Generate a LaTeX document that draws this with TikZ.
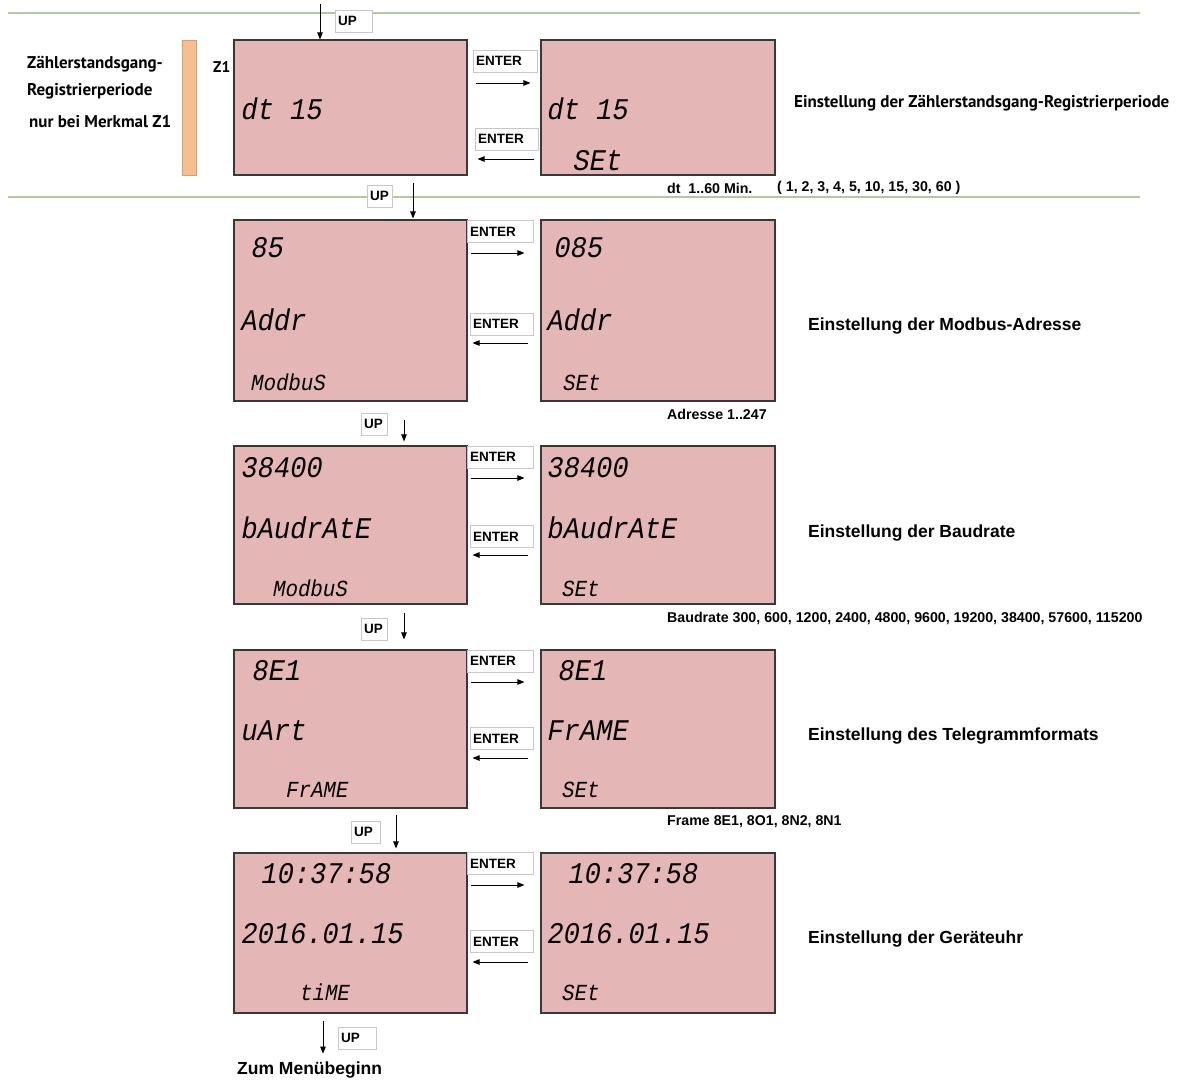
\documentclass[tikz,border=0pt]{standalone}
\usepackage{fontspec}
\usetikzlibrary{arrows.meta}
\newfontfamily\lcdfont[FakeSlant=0.18,FakeStretch=0.9]{Liberation Mono}
\newfontfamily\arialf{Liberation Sans}
\newfontfamily\myfont{PT Sans}
\definecolor{lcdpink}{HTML}{E5B6B6}
\definecolor{barorange}{HTML}{F8BE8E}
\definecolor{lineGreen}{HTML}{B6C69E}
\begin{document}
\begin{tikzpicture}[x=1pt,y=-1pt,
 lcdbox/.style={draw=black!78, fill=lcdpink, line width=1.1pt, inner sep=0pt},
 big/.style={anchor=base west, inner sep=0pt, font=\lcdfont\fontsize{30}{30}\selectfont},
 small/.style={anchor=base west, inner sep=0pt, font=\lcdfont\fontsize{23}{23}\selectfont},
 keybox/.style={draw=black!22, fill=white, line width=0.8pt, inner xsep=3pt, inner ysep=0pt, minimum height=22pt, align=left, text width=#1, font=\arialf\bfseries\fontsize{13.5}{14}\selectfont},
 desc/.style={anchor=west, inner sep=0pt, font=\arialf\bfseries\fontsize{17.5}{20}\selectfont},
 note/.style={anchor=west, inner sep=0pt, font=\arialf\bfseries\fontsize{14.2}{16}\selectfont},
 arr/.style={-{Triangle[length=7pt,width=5.5pt]}, line width=0.9pt},
 greenline/.style={draw=lineGreen, line width=2.2pt}]
\useasboundingbox[fill=white] (0,0) rectangle (1180,1079);

% separator lines
\draw[greenline] (8,13) -- (1140,13);
\draw[greenline] (8,197) -- (1140,197);

% ---------- top row (Z1) ----------
\node[anchor=north west, inner sep=0pt, align=left, font=\myfont\bfseries\fontsize{17}{27}\selectfont] (lefttxt) at (27,56)
  {Zählerstandsgang-\\Registrierperiode\\[5pt]\hspace{2pt}nur bei Merkmal Z1};
\node[draw=barorange!85!black, fill=barorange, line width=0.5pt, minimum width=14pt, minimum height=135pt, inner sep=0pt] (bar) at (189,107.5) {};
\node[anchor=west, inner sep=0pt, font=\myfont\bfseries\fontsize{15.5}{16}\selectfont] (z1) at (213,67) {Z1};

\node[lcdbox, minimum width=233pt, minimum height=135pt] (b1l) at (350.5,107.5) {};
\node[lcdbox, minimum width=234pt, minimum height=135pt] (b1r) at (658,107.5) {};
\node[big] (t1a) at (240,119) {dt 15};
\node[big] (t1b) at (546,119) {dt 15};
\node[big] (t1c) at (572,170) {SEt};

\coordinate (start) at (320,4);
\node[keybox=31pt] (up0) at (353.5,21) {UP};
\draw[arr] (start) -- (start |- b1l.north);

\node[keybox=58pt] (e1a) at (505,61) {ENTER};
\node[keybox=57pt] (e1b) at (506.5,139) {ENTER};
\draw[arr, shorten <=8pt, shorten >=10pt] (b1l.east |- 0,83) -- (b1r.west |- 0,83);
\draw[arr, shorten <=6pt, shorten >=10pt] (b1r.west |- 0,159) -- (b1l.east |- 0,159);

\node[anchor=west, inner sep=0pt, font=\myfont\bfseries\fontsize{17}{20}\selectfont] (d1) at (794,103) {Einstellung der Zählerstandsgang-Registrierperiode};
\node[note] (n1a) at (667,188) {dt\ \ 1..60 Min.};
\node[note] (n1b) at (777,188) {( 1, 2, 3, 4, 5, 10, 15, 30, 60 )};

% ---------- row 2 ----------
\node[lcdbox, minimum width=233pt, minimum height=181pt] (b2l) at (350.5,310.5) {};
\node[lcdbox, minimum width=234pt, minimum height=181pt] (b2r) at (658,310.5) {};
\node[big] (t2a) at (250,257) {85};
\node[big] (t2b) at (240,330) {Addr};
\node[small] (t2c) at (250,390) {ModbuS};
\node[big] (t2d) at (553,257) {085};
\node[big] (t2e) at (546,330) {Addr};
\node[small] (t2f) at (562,390) {SEt};

\node[keybox=19pt] (up1) at (379.5,196) {UP};
\draw[arr, shorten <=7pt, shorten >=1pt] (b1l.south -| 413,0) -- (b2l.north -| 413,0);

\node[keybox=60pt] (e2a) at (500,231.5) {ENTER};
\node[keybox=57pt] (e2b) at (501.5,324) {ENTER};
\draw[arr, shorten <=3pt, shorten >=16pt] (b2l.east |- 0,253) -- (b2r.west |- 0,253);
\draw[arr, shorten <=12pt, shorten >=5pt] (b2r.west |- 0,343) -- (b2l.east |- 0,343);

\node[desc] (d2) at (808,326) {Einstellung der Modbus-Adresse};
\node[note] (n2) at (667,414) {Adresse 1..247};

% ---------- row 3 ----------
\node[lcdbox, minimum width=233pt, minimum height=158pt] (b3l) at (350.5,525) {};
\node[lcdbox, minimum width=234pt, minimum height=158pt] (b3r) at (658,525) {};
\node[big] (t3a) at (240,477) {38400};
\node[big] (t3b) at (240,538) {bAudrAtE};
\node[small] (t3c) at (272,596) {ModbuS};
\node[big] (t3d) at (546,477) {38400};
\node[big] (t3e) at (546,538) {bAudrAtE};
\node[small] (t3f) at (561,596) {SEt};

\node[keybox=20pt] (up2) at (374,424) {UP};
\draw[arr, shorten <=18pt, shorten >=4pt] (b2l.south -| 404,0) -- (b3l.north -| 404,0);

\node[keybox=60pt] (e3a) at (500,457) {ENTER};
\node[keybox=57pt] (e3b) at (501.5,536.5) {ENTER};
\draw[arr, shorten <=3pt, shorten >=16pt] (b3l.east |- 0,478) -- (b3r.west |- 0,478);
\draw[arr, shorten <=12pt, shorten >=5pt] (b3r.west |- 0,555) -- (b3l.east |- 0,555);

\node[desc] (d3) at (808,533) {Einstellung der Baudrate};
\node[note] (n3) at (667,618) {Baudrate 300, 600, 1200, 2400, 4800, 9600, 19200, 38400, 57600, 115200};

% ---------- row 4 ----------
\node[lcdbox, minimum width=233pt, minimum height=158pt] (b4l) at (350.5,729) {};
\node[lcdbox, minimum width=234pt, minimum height=158pt] (b4r) at (658,729) {};
\node[big] (t4a) at (251,680) {8E1};
\node[big] (t4b) at (240,740) {uArt};
\node[small] (t4c) at (285,797) {FrAME};
\node[big] (t4d) at (557,680) {8E1};
\node[big] (t4e) at (546,740) {FrAME};
\node[small] (t4f) at (561,797) {SEt};

\node[keybox=20pt] (up3) at (374,629) {UP};
\draw[arr, shorten <=8pt, shorten >=10pt] (b3l.south -| 404,0) -- (b4l.north -| 404,0);

\node[keybox=60pt] (e4a) at (500,661) {ENTER};
\node[keybox=57pt] (e4b) at (501.5,738.5) {ENTER};
\draw[arr, shorten <=3pt, shorten >=16pt] (b4l.east |- 0,682) -- (b4r.west |- 0,682);
\draw[arr, shorten <=12pt, shorten >=5pt] (b4r.west |- 0,758) -- (b4l.east |- 0,758);

\node[desc] (d4) at (808,736) {Einstellung des Telegrammformats};
\node[note] (n4) at (667,822) {Frame 8E1, 8O1, 8N2, 8N1};

% ---------- row 5 ----------
\node[lcdbox, minimum width=233pt, minimum height=160pt] (b5l) at (350.5,933) {};
\node[lcdbox, minimum width=234pt, minimum height=160pt] (b5r) at (658,933) {};
\node[big] (t5a) at (260,883) {10:37:58};
\node[big] (t5b) at (240,943) {2016.01.15};
\node[small] (t5c) at (299,1000) {tiME};
\node[big] (t5d) at (567,883) {10:37:58};
\node[big] (t5e) at (546,943) {2016.01.15};
\node[small] (t5f) at (561,1000) {SEt};

\node[keybox=23pt] (up4) at (365.5,832) {UP};
\draw[arr, shorten <=6pt, shorten >=4pt] (b4l.south -| 396,0) -- (b5l.north -| 396,0);

\node[keybox=60pt] (e5a) at (500,863.5) {ENTER};
\node[keybox=57pt] (e5b) at (501.5,941.5) {ENTER};
\draw[arr, shorten <=3pt, shorten >=16pt] (b5l.east |- 0,885) -- (b5r.west |- 0,885);
\draw[arr, shorten <=12pt, shorten >=5pt] (b5r.west |- 0,962) -- (b5l.east |- 0,962);

\node[desc] (d5) at (808,939) {Einstellung der Geräteuhr};

% ---------- bottom ----------
\node[desc] (zum) at (237,1070) {Zum Menübeginn};
\node[keybox=32pt] (up5) at (357,1038) {UP};
\draw[arr, shorten <=7pt, shorten >=8pt] (b5l.south -| 323,0) -- (zum.north -| 323,0);
\end{tikzpicture}
\end{document}
